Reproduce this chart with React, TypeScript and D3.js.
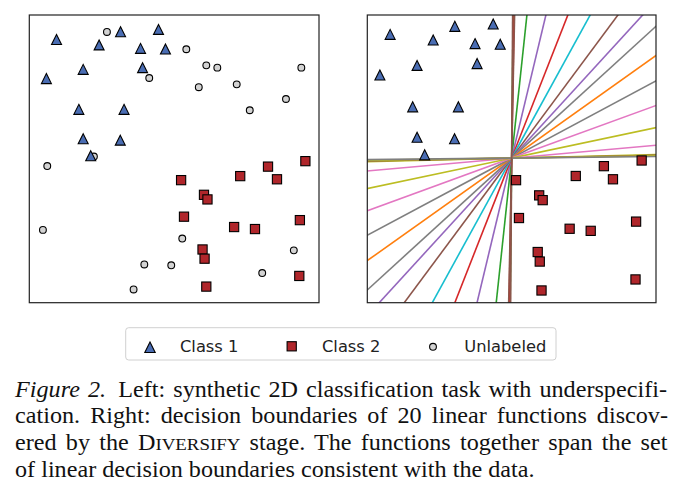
import React, { useLayoutEffect, useRef } from "react";
import * as d3 from "d3";

// ---------- data ----------
const class1X = [0.94, 2.41, 3.15, 4.46, 3.84, 4.70, 1.86, 3.91, 0.59, 1.71, 3.27, 1.86, 3.14, 2.12];
const class1Y = [9.15, 8.96, 9.42, 9.50, 8.84, 8.82, 8.11, 8.17, 7.79, 6.72, 6.72, 5.70, 5.65, 5.11];

const class2X = [9.53, 8.24, 7.28, 8.55, 5.24, 6.03, 6.15, 5.34, 9.34, 7.07, 7.79, 5.98, 6.05, 9.32, 6.11];
const class2Y = [4.92, 4.73, 4.40, 4.29, 4.26, 3.75, 3.59, 2.99, 2.87, 2.63, 2.56, 1.85, 1.53, 0.93, 0.56];

const unlabeledX = [2.68, 5.42, 6.11, 6.49, 9.39, 4.14, 5.85, 7.16, 8.86, 7.61, 2.23, 0.62, 0.47, 5.28, 9.13, 3.97, 4.90, 8.04, 3.60];
const unlabeledY = [9.41, 8.81, 8.25, 8.17, 8.17, 7.81, 7.49, 7.59, 7.08, 6.69, 5.08, 4.75, 2.53, 2.23, 1.82, 1.33, 1.30, 1.03, 0.46];

// decision boundaries: angle in degrees through a common centre
const boundaryAngles = [89.4, 89.0, 88.8, 83.8, 76.3, 68.2, 60.8, 52.9, 47.0, 41.9, 34.9, 27.7, 19.7, 11.7, 5.0, 1.4, 1.1, 0.9, 0.6, 89.6];
const boundaryColors = [
  "green", "red", "brown", "green", "purple", "red", "cyan", "brown", "purple", "gray",
  "orange", "gray", "pink", "olive", "pink", "olive", "brown", "olive", "gray", "brown",
];
const boundaryCenter = [5.09, 5.0];

const legendLabels = ["Class 1", "Class 2", "Unlabeled"];

const captionLabel = "Figure 2.";
const captionLines = [
  "Left: synthetic 2D classification task with underspecifi-",
  "cation. Right: decision boundaries of 20 linear functions discov-",
  "ered by the ",
  "of linear decision boundaries consistent with the data.",
];

// ---------- styles ----------
const palette: Record<string, string> = {
  orange: "#ff7f0e", green: "#2ca02c", red: "#d62728", purple: "#9467bd", brown: "#8c564b",
  pink: "#e377c2", gray: "#7f7f7f", olive: "#bcbd22", cyan: "#17becf",
};
const TRI_FILL = "#4a6db3";
const SQ_FILL = "#b0262b";
const CIRC_FILL = "#d3d3d3";

const W = 684, H = 501;
const leftBox = { x0: 29.3, x1: 319, y0: 15, y1: 302.7 };
const rightBox = { x0: 367.3, x1: 656, y0: 15, y1: 302.7 };

const triPath = (r: number) => `M0,${-r}L${r},${r}L${-r},${r}Z`;

function Markers({ sx, sy, showUnlabeled }: any) {
  return (
    <g>
      {showUnlabeled &&
        unlabeledX.map((x, i) => (
          <circle key={"u" + i} cx={sx(x)} cy={sy(unlabeledY[i])} r={3.4} fill={CIRC_FILL} stroke="#000" strokeWidth={1.1} />
        ))}
      {class2X.map((x, i) => (
        <rect key={"s" + i} x={sx(x) - 4.6} y={sy(class2Y[i]) - 4.6} width={9.2} height={9.2} fill={SQ_FILL} stroke="#000" strokeWidth={1.1} />
      ))}
      {class1X.map((x, i) => (
        <path key={"t" + i} d={triPath(5)} transform={`translate(${sx(x)},${sy(class1Y[i])})`} fill={TRI_FILL} stroke="#000" strokeWidth={1.1} strokeLinejoin="miter" />
      ))}
    </g>
  );
}

export default function App() {
  const l1 = useRef<SVGTextElement>(null);
  const l2 = useRef<SVGTextElement>(null);
  const l3 = useRef<SVGTextElement>(null);
  const capX0 = 15, capX1 = 668;
  const SX = 1.075; // horizontal stretch of caption font
  const localW = (capX1 - capX0) / SX;

  useLayoutEffect(() => {
    [l1, l2, l3].forEach((r) => {
      const el = r.current;
      if (!el) return;
      el.style.wordSpacing = "0px";
      const len = el.getBBox().width;
      const txt = el.textContent || "";
      const n = (txt.match(/ /g) || []).length;
      if (n > 0) el.style.wordSpacing = `${(localW - len) / n}px`;
    });
  }, []);

  const sxL = d3.scaleLinear().domain([0, 10]).range([leftBox.x0, leftBox.x1]);
  const syL = d3.scaleLinear().domain([0, 10]).range([leftBox.y1, leftBox.y0]);
  const sxR = d3.scaleLinear().domain([0.16, 10.02]).range([rightBox.x0, rightBox.x1]);
  const syR = d3.scaleLinear().domain([0.15, 9.8]).range([rightBox.y1, rightBox.y0]);

  const lineGen = d3.line<[number, number]>().x((d) => sxR(d[0])).y((d) => syR(d[1]));
  const T = 20;

  const capFont = "'Liberation Serif', 'Times New Roman', serif";
  const capSize = 22.5;
  const baselines = [396.7, 423.4, 450.1, 476.8];

  return (
    <svg width={W} height={H} style={{ position: "absolute", left: 0, top: 0, background: "#fff" }}>
      <rect x={0} y={0} width={W} height={H} fill="#fff" />
      <defs>
        <clipPath id="clipR">
          <rect x={rightBox.x0} y={rightBox.y0} width={rightBox.x1 - rightBox.x0} height={rightBox.y1 - rightBox.y0} />
        </clipPath>
      </defs>

      {/* Left panel */}
      <Markers sx={sxL} sy={syL} showUnlabeled={true} />
      <rect x={leftBox.x0} y={leftBox.y0} width={leftBox.x1 - leftBox.x0} height={leftBox.y1 - leftBox.y0} fill="none" stroke="#222" strokeWidth={1.2} />

      {/* Right panel */}
      <g clipPath="url(#clipR)">
        {boundaryAngles.map((a, i) => {
          const rad = (a * Math.PI) / 180;
          const dx = Math.cos(rad), dy = Math.sin(rad);
          const pts: [number, number][] = [
            [boundaryCenter[0] - T * dx, boundaryCenter[1] - T * dy],
            [boundaryCenter[0] + T * dx, boundaryCenter[1] + T * dy],
          ];
          return <path key={i} d={lineGen(pts) || ""} stroke={palette[boundaryColors[i]]} strokeWidth={1.6} fill="none" />;
        })}
      </g>
      <Markers sx={sxR} sy={syR} showUnlabeled={false} />
      <rect x={rightBox.x0} y={rightBox.y0} width={rightBox.x1 - rightBox.x0} height={rightBox.y1 - rightBox.y0} fill="none" stroke="#222" strokeWidth={1.2} />

      {/* Legend */}
      <rect x={125.7} y={327.7} width={430.3} height={32.3} rx={3} fill="#fff" stroke="#d0d0d0" strokeWidth={1} />
      <path d={triPath(5.2)} transform="translate(150,347.3)" fill={TRI_FILL} stroke="#000" strokeWidth={1.1} />
      <rect x={291.7 - 4.6} y={346.3 - 4.6} width={9.2} height={9.2} fill={SQ_FILL} stroke="#000" strokeWidth={1.1} />
      <circle cx={433} cy={346.8} r={3.4} fill={CIRC_FILL} stroke="#000" strokeWidth={1.1} />
      {legendLabels.map((t, i) => (
        <text key={t} x={[180, 322, 464.3][i]} y={352.2} fontFamily="'DejaVu Sans', sans-serif" fontSize={16.3} fill="#222">
          {t}
        </text>
      ))}

      {/* Caption */}
      <g fontFamily={capFont} fontSize={capSize} fill="#111" transform={`translate(${capX0},0) scale(${SX},1)`}>
        <text ref={l1} x={0} y={baselines[0]}>
          <tspan fontStyle="italic">{captionLabel}</tspan>
          <tspan dx={4}>{" " + captionLines[0]}</tspan>
        </text>
        <text ref={l2} x={0} y={baselines[1]}>{captionLines[1]}</text>
        <text ref={l3} x={0} y={baselines[2]}>
          {captionLines[2]}D<tspan fontSize={capSize * 0.78}>IVERSIFY</tspan> stage. The functions together span the set
        </text>
        <text x={0} y={baselines[3]}>{captionLines[3]}</text>
      </g>
    </svg>
  );
}
